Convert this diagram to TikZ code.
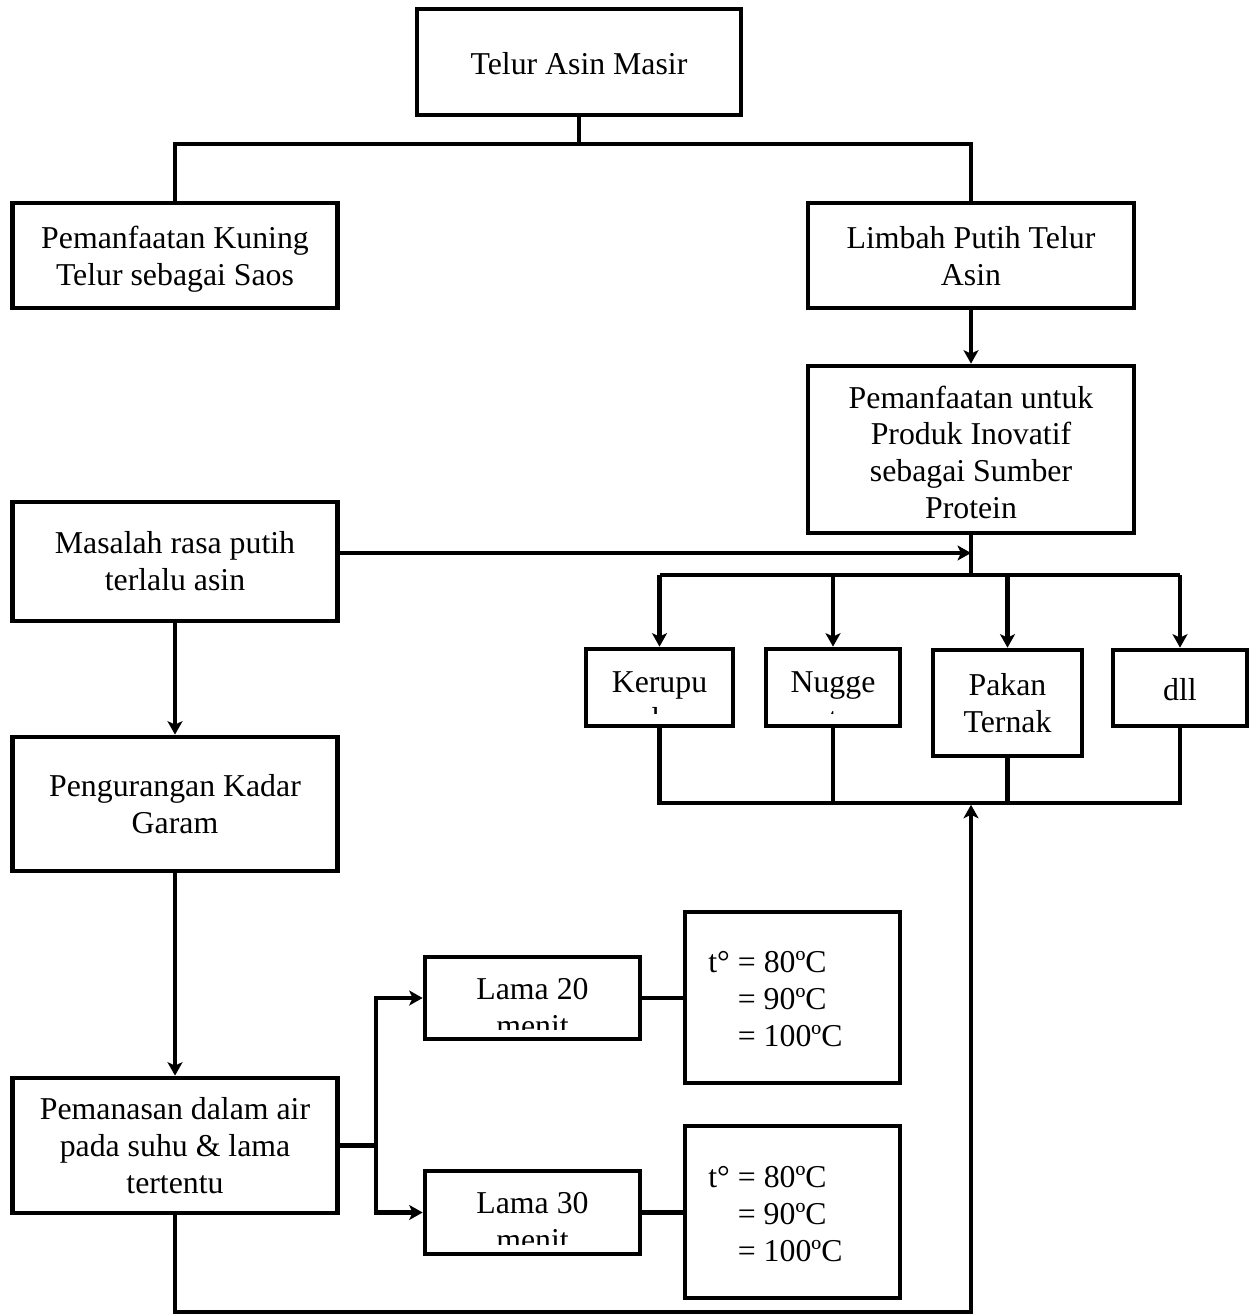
\documentclass[tikz,border=0pt]{standalone}
\usepackage{fontspec}
\setmainfont{Liberation Serif}
\usetikzlibrary{arrows.meta}
\begin{document}
\begin{tikzpicture}[x=0.02cm,y=-0.02cm,
  mybox/.style={draw, line width=2.7pt, inner sep=0pt},
  mytxt/.style={inner sep=0pt, align=center, anchor=base, font=\fontsize{18.1pt}{20.8pt}\selectfont},
  ln/.style={line width=2.4pt},
  arr/.style={line width=2.4pt, -{Stealth[length=0.27cm, width=0.3cm, inset=0.07cm]}}]
\useasboundingbox (0,0) rectangle (1256,1315);

% main boxes
\node[mybox, minimum width=6.48cm, minimum height=2.12cm] (top) at (579,62) {};
\node[mybox, minimum width=6.5cm, minimum height=2.1cm] (kuning) at (175,255.5) {};
\node[mybox, minimum width=6.52cm, minimum height=2.1cm] (limbah) at (971,255.5) {};
\node[mybox, minimum width=6.52cm, minimum height=3.34cm] (produk) at (971,449.5) {};
\node[mybox, minimum width=6.5cm, minimum height=2.38cm] (masalah) at (175,561.5) {};
\node[mybox, minimum width=6.5cm, minimum height=2.68cm] (peng) at (175,804) {};
\node[mybox, minimum width=6.5cm, minimum height=2.7cm] (pemanasan) at (175,1145.5) {};

\node[mytxt] (toptxt) at (579,74) {Telur Asin Masir};
\node[mytxt] (kuningtxt) at (175,285) {Pemanfaatan Kuning\\Telur sebagai Saos};
\node[mytxt] (limbahtxt) at (971,285) {Limbah Putih Telur\\Asin};
\node[mytxt] (produktxt) at (971,518) {Pemanfaatan untuk\\Produk Inovatif\\sebagai Sumber\\Protein};
\node[mytxt] (masalahtxt) at (175,590) {Masalah rasa putih\\terlalu asin};
\node[mytxt] (pengtxt) at (175,833) {Pengurangan Kadar\\Garam};
\node[mytxt] (pemanasantxt) at (175,1193) {Pemanasan dalam air\\pada suhu \& lama\\tertentu};

% product boxes
\node[mybox, minimum width=2.94cm, minimum height=1.54cm] (kerupuk) at (659.5,687.5) {};
\node[mybox, minimum width=2.68cm, minimum height=1.54cm] (nugget) at (833,687.5) {};
\node[mybox, minimum width=2.98cm, minimum height=2.12cm] (pakan) at (1007.5,703) {};
\node[mybox, minimum width=2.68cm, minimum height=1.52cm] (dll) at (1180,688) {};
\node[mytxt] (pakantxt) at (1007.5,732) {Pakan\\Ternak};
\node[mytxt] (dlltxt) at (1180,700) {dll};

\begin{scope}
\clip (kerupuk.north west) rectangle ([yshift=0.29cm]kerupuk.south east);
\node[mytxt] (kerupuktxt) at (659.5,729.5) {Kerupu\\k};
\end{scope}
\begin{scope}
\clip (nugget.north west) rectangle ([yshift=0.29cm]nugget.south east);
\node[mytxt] (nuggettxt) at (833,729.5) {Nugge\\t};
\end{scope}

% heating time boxes
\node[mybox, minimum width=4.3cm, minimum height=1.64cm] (lama20) at (532.5,998) {};
\node[mybox, minimum width=4.3cm, minimum height=1.66cm] (lama30) at (532.5,1212.5) {};
\begin{scope}
\clip (lama20.north west) rectangle ([yshift=0.24cm]lama20.south east);
\node[mytxt] (lama20txt) at (532.5,1036.5) {Lama 20\\menit};
\end{scope}
\begin{scope}
\clip (lama30.north west) rectangle ([yshift=0.24cm]lama30.south east);
\node[mytxt] (lama30txt) at (532.5,1250.5) {Lama 30\\menit};
\end{scope}

% temperature boxes
\node[mybox, minimum width=4.3cm, minimum height=3.42cm] (temp1) at (792.5,997.5) {};
\node[mybox, minimum width=4.3cm, minimum height=3.44cm] (temp2) at (792.5,1212) {};
\node[mytxt, align=left, anchor=base west] (temp1txt) at (708,1046) {t° = 80ºC\\\hphantom{t°} = 90ºC\\\hphantom{t°} = 100ºC};
\node[mytxt, align=left, anchor=base west] (temp2txt) at (708,1261) {t° = 80ºC\\\hphantom{t°} = 90ºC\\\hphantom{t°} = 100ºC};

% junction coordinates
\coordinate (bar1) at (579,144);
\coordinate (bar2) at (971,575);
\coordinate (mj) at (971,553);
\coordinate (bar3) at (971,803);
\coordinate (bot) at (971,1312);
\coordinate (pj) at (376,1145.5);

% connectors
\draw[line width=1.8pt] (top.south) -- (bar1);
\draw[ln] (kuning.north) |- (bar1) -| (limbah.north);
\draw[arr] (limbah.south) -- (produk.north);
\draw[ln] (produk.south) -- (bar2);
\draw[ln] (kerupuk.north |- bar2) -- (dll.north |- bar2);
\draw[arr] (kerupuk.north |- bar2) -- (kerupuk.north);
\draw[arr] (nugget.north |- bar2) -- (nugget.north);
\draw[arr] (pakan.north |- bar2) -- (pakan.north);
\draw[arr] (dll.north |- bar2) -- (dll.north);
\draw[arr] (masalah.east |- mj) -- (mj);

\draw[ln] (kerupuk.south) |- (dll.south |- bar3) -- (dll.south);
\draw[ln] (nugget.south) -- (nugget.south |- bar3);
\draw[ln] (pakan.south) -- (pakan.south |- bar3);

\draw[arr] (masalah.south) -- (peng.north);
\draw[arr] (peng.south) -- (pemanasan.north);
\draw[arr] (pemanasan.south) |- (bot) -- ([yshift=-1pt]bar3);

\draw[ln] (pemanasan.east) -- (pj);
\draw[arr] (pj) |- (lama20.west);
\draw[arr] (pj) |- (lama30.west);
\draw[ln] (lama20.east) -- (temp1.west |- lama20.east);
\draw[ln] (lama30.east) -- (temp2.west |- lama30.east);
\end{tikzpicture}
\end{document}
